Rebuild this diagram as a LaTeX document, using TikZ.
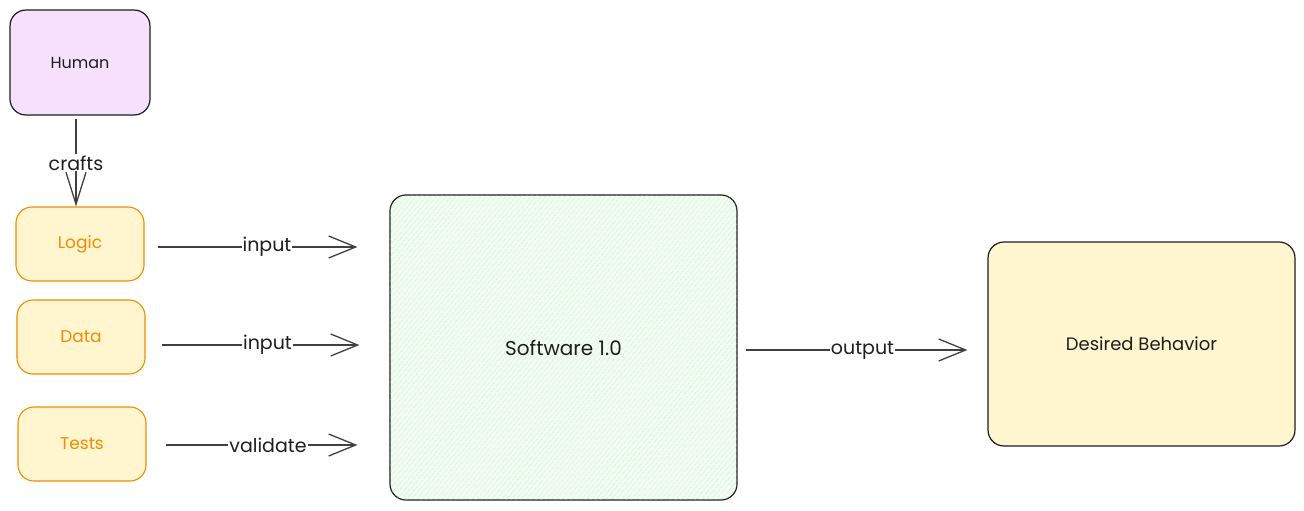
\documentclass[tikz,border=0pt]{standalone}
\usepackage{fontspec}
\setmainfont{Poppins}
\usetikzlibrary{arrows.meta,patterns.meta}
\definecolor{ink}{HTML}{1E1E1E}
\definecolor{orng}{HTML}{F08C00}
\definecolor{purplebg}{HTML}{F6E0FB}
\definecolor{yellowbg}{HTML}{FFF5CE}
\definecolor{greenhatch}{HTML}{A6EEB1}
\definecolor{greenbg}{HTML}{F2FCF3}
\tikzset{
  box/.style={rectangle, rounded corners=16pt, line width=1.2pt, draw=ink, inner sep=0pt, align=center, text=ink, font=\fontsize{16}{19}\selectfont},
  humanbox/.style={box, fill=purplebg},
  inbox/.style={box, fill=yellowbg, draw=orng, line width=1.1pt, text=orng, font=\fontsize{17}{20}\selectfont},
  swbox/.style={box, fill=greenbg, postaction={pattern={Lines[angle=50,distance=4pt,line width=0.5pt]}, pattern color=greenhatch}, font=\fontsize{20}{24}\selectfont},
  outbox/.style={box, fill=yellowbg, font=\fontsize{18}{22}\selectfont},
  arr/.style={draw=ink!85, line width=1.3pt, -{Straight Barb[length=27pt,width=22pt,line width=1.3pt]}},
  lbl/.style={fill=white, inner sep=1pt, text=ink, font=\fontsize{19}{22}\selectfont},
}
\begin{document}
\begin{tikzpicture}[x=1pt,y=-1pt]
\useasboundingbox[fill=white] (0,0) rectangle (1304,511);

\node[humanbox, minimum width=140pt, minimum height=105pt] (human) at (80,62.5) {Human};
\node[inbox, minimum width=128pt, minimum height=74pt] (logic) at (80,244) {Logic};
\node[inbox, minimum width=128pt, minimum height=74pt] (data) at (81,337) {Data};
\node[inbox, minimum width=128pt, minimum height=74pt] (tests) at (82,444) {Tests};
\node[swbox, minimum width=347pt, minimum height=305pt] (sw) at (563.5,347.5) {Software 1.0};
\node[outbox, minimum width=307pt, minimum height=204pt] (des) at (1141.5,344) {Desired Behavior};

\draw[arr, shorten <=3pt, -{Straight Barb[length=32pt,width=20pt,line width=1.3pt]}] ([xshift=-4pt]human.south) -- ([xshift=-4pt]logic.north) node[lbl, pos=0.52] {crafts};
\draw[arr, shorten <=13pt, shorten >=32pt] ([yshift=-3pt]logic.east) -- ([yshift=-3pt]logic.east -| sw.west) node[lbl, pos=0.5] {input};
\draw[arr, shorten <=16pt, shorten >=30pt] ([yshift=-8pt]data.east) -- ([yshift=-8pt]data.east -| sw.west) node[lbl, pos=0.5] {input};
\draw[arr, shorten <=19pt, shorten >=32pt] ([yshift=-1pt]tests.east) -- ([yshift=-1pt]tests.east -| sw.west) node[lbl, pos=0.5] {validate};
\draw[arr, shorten <=8pt, shorten >=20pt] ([yshift=-2.5pt]sw.east) -- ([yshift=-2.5pt]sw.east -| des.west) node[lbl, pos=0.5] {output};
\end{tikzpicture}
\end{document}
